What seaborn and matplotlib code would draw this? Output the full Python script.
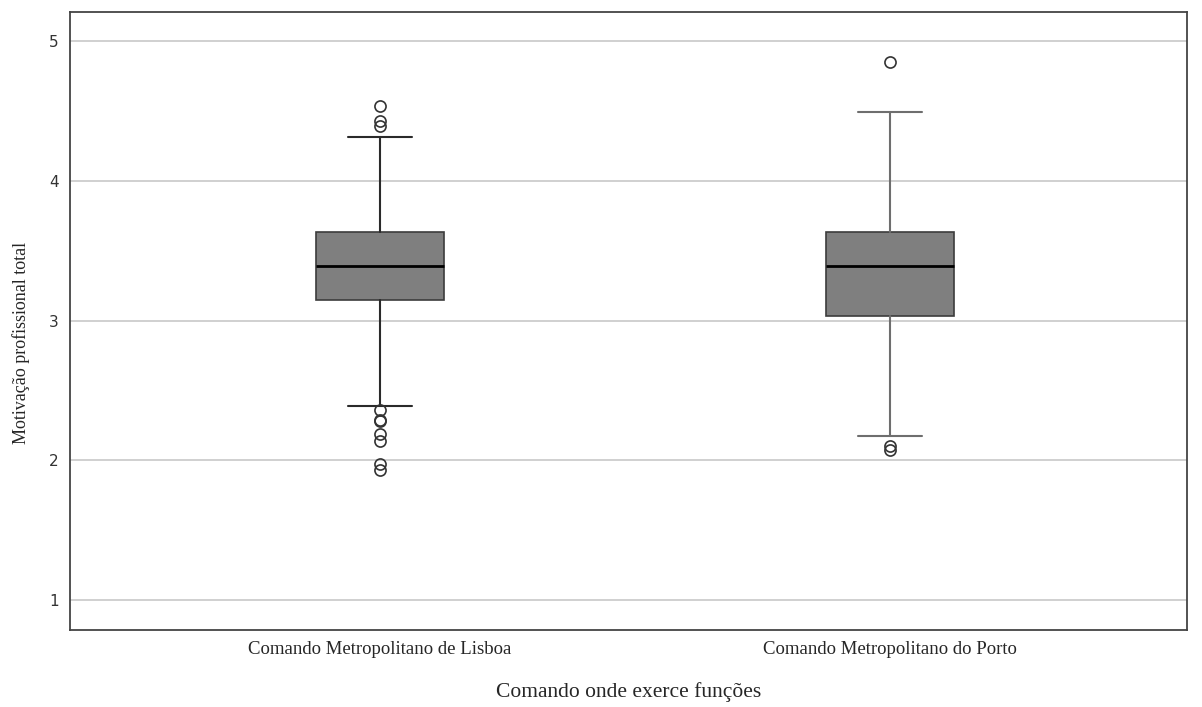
import matplotlib
matplotlib.use("Agg")
import matplotlib.pyplot as plt
import seaborn as sns

categories = ["Comando Metropolitano de Lisboa", "Comando Metropolitano do Porto"]
whisker_low = [2.39, 2.17]
q1 = [3.147, 3.03]
median = [3.39, 3.39]
q3 = [3.633, 3.633]
whisker_high = [4.313, 4.49]
outliers = [
    [4.535, 4.43, 4.39, 2.36, 2.29, 2.28, 2.19, 2.14, 1.97, 1.93],
    [4.85, 2.10, 2.07],
]
yticks = [1, 2, 3, 4, 5]

sns.set_style("white")
plt.rcParams["font.family"] = ["Liberation Serif", "DejaVu Sans"]

fig = plt.figure(figsize=(12.02, 7.07), dpi=100)
ax = fig.add_axes([70 / 1202, 1 - 630 / 707, (1187 - 70) / 1202, (630 - 12) / 707])

stats = []
for i, c in enumerate(categories):
    stats.append(dict(label=c, whislo=whisker_low[i], q1=q1[i], med=median[i],
                      q3=q3[i], whishi=whisker_high[i], fliers=outliers[i]))

whisk_colors = ["#2a2a2a", "#6e6e6e"]
for i, s in enumerate(stats):
    ax.bxp([s], positions=[i], widths=0.25, patch_artist=True, showfliers=True,
           boxprops=dict(facecolor="#7f7f7f", edgecolor="#3c3c3c", linewidth=1.2),
           medianprops=dict(color="black", linewidth=2),
           whiskerprops=dict(color=whisk_colors[i], linewidth=1.5),
           capprops=dict(color=whisk_colors[i], linewidth=1.5),
           capwidths=0.125,
           flierprops=dict(marker="o", markerfacecolor="none", markeredgecolor="#333333",
                           markersize=8, markeredgewidth=1.2))

ax.set_xlim(-0.608, 1.582)
ax.set_ylim(0.785, 5.208)
ax.set_yticks(yticks)
ax.set_yticklabels([str(t) for t in yticks], family="DejaVu Sans", fontsize=11, color="#333333")
ax.set_xticks([0, 1])
ax.set_xticklabels(categories, fontsize=13.5)
ax.tick_params(axis="both", length=0, pad=8)
ax.yaxis.grid(True, color="#c8c8c8", linewidth=1.2)
ax.set_axisbelow(True)
for sp in ax.spines.values():
    sp.set_visible(True)
    sp.set_color("#444444")
    sp.set_linewidth(1.3)

ax.set_xlabel("Comando onde exerce funções", fontsize=15.5)
ax.xaxis.set_label_coords(0.5, -0.085)
ax.set_ylabel("Motivação profissional total", fontsize=13)
ax.yaxis.set_label_coords(-0.036, 0.465)

fig.savefig("out.png", dpi=100)
